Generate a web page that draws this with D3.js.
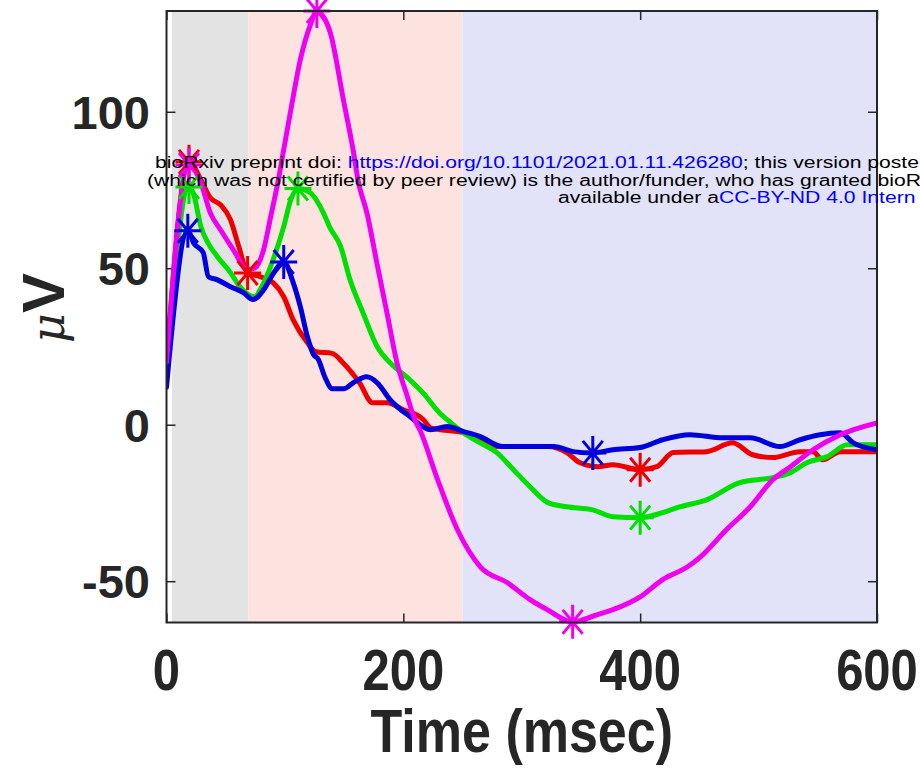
<!DOCTYPE html>
<html>
<head>
<meta charset="utf-8">
<script src="https://cdn.jsdelivr.net/npm/d3@7"></script>
<style>
  html, body { margin: 0; padding: 0; background: #fff; }
  svg { display: block; }
</style>
</head>
<body>
<svg id="chart" width="920" height="772"></svg>
<script>
// ---------------- data ----------------
const xTicks = [0, 200, 400, 600];
const yTicks = [-50, 0, 50, 100];
const xLabel = "Time (msec)";
const timeWindows = [[4.5, 69], [69, 250], [250, 600]];
const windowColors = ["#e3e3e3", "#fde3df", "#e2e2f9"];

const seriesNames = ["red", "green", "blue", "magenta"];
const seriesColors = ["#ee0000", "#00e000", "#0000dd", "#f000f0"];

const redData = [
  [0, 19.5], [19, 84], [29, 78.3], [37, 72.5], [45.6, 70.3], [54, 65.5], [61, 57],
  [68.5, 48.5], [79, 47.3], [90, 45.4], [99, 40.9], [107, 33.5], [119, 26.2],
  [126, 23.3], [140, 22.8], [149, 19.8], [163, 13.4], [174, 7], [186, 7],
  [200, 4.8], [217, 1.6], [223, -1], [251, -2.6], [279, -7], [322, -7],
  [338, -8.9], [349, -12.1], [364, -13.4], [377, -12.8], [400, -14.4],
  [414, -13.4], [428, -8.9], [456, -8.6], [478, -5.8], [495, -9.6],
  [512, -10.5], [535, -8.6], [546, -8.6], [554, -11.2], [569, -8.6], [600, -8.6]
];
const greenData = [
  [0, 16.6], [19, 76], [23, 73.5], [29, 63.3], [35, 58.1], [43, 53.7], [54, 48.6],
  [62, 44.1], [71, 41.2], [75, 40.9], [79, 43.1], [90, 52.7], [99, 63.3],
  [105, 71.9], [111, 75.5], [121.5, 74.1], [132.5, 67.7], [138, 63], [147, 57],
  [155, 46.3], [166, 35.7], [178, 24.9], [191, 19], [203, 15.2], [217, 10],
  [231, 3.6], [237, 1.6], [251, -2.6], [265, -5.8], [279, -8.9], [293, -14.4],
  [307, -19.8], [322, -24.9], [338, -26.2], [360, -27.2], [377, -29.4],
  [400, -29.7], [419, -28.1], [434, -26.2], [456, -24], [484, -18.5],
  [512, -16.9], [527, -15.3], [541, -12.1], [558, -10.2], [575, -6.4], [600, -6.4]
];
const blueData = [
  [0, 12], [18, 62], [23, 58], [31, 55], [35.4, 47.3], [43, 46.3], [54, 44.1],
  [65, 42.2], [73, 40], [82, 43.1], [89.5, 47.9], [99, 52], [107, 45.4],
  [113, 37.7], [119, 28.1], [124, 22.5], [128, 21], [134, 15], [140, 11.5],
  [150, 11.5], [158, 13.5], [169, 15.3], [178, 13.4], [189, 7.9], [206, 2.5],
  [223, -1.6], [237, -0.6], [251, -2.2], [265, -3.8], [284, -7], [307, -7],
  [327, -7], [343.5, -8.6], [360, -9], [377, -8], [400, -7.3], [419, -4.8],
  [442, -3.2], [470, -4.2], [493, -4.2], [518, -7], [535, -4.8], [552, -3.2],
  [569, -2.6], [580, -5.8], [600, -8]
];
const magentaData = [
  [0, 20], [19, 83], [29, 77.3], [37, 67.7], [45.6, 62.3], [56.5, 55.9],
  [68.4, 49.5], [75, 50.2], [82, 55.9], [88, 66.5], [94, 77.3], [99, 87.9],
  [105, 100.6], [113, 116.6], [121.5, 127.8], [127, 132.2], [132.5, 130.4],
  [138.4, 125.2], [149.4, 103.8], [158, 86.9], [161.7, 78.2], [169.3, 67.6],
  [177.7, 51.6], [186.2, 35.7], [194.7, 19.7], [203, 9.5], [209.8, 1.5],
  [214, -1.7], [229, -17.6], [245.6, -33.5], [265, -45.4], [288, -50.5],
  [307, -55.9], [321.5, -59.1], [343, -63], [364, -60.7], [377, -59.1],
  [400, -55], [419, -49.5], [440, -45.4], [451, -42.2], [473, -33.5],
  [493, -26.2], [512, -17.6], [527, -13.4], [546, -8], [569, -3.2], [600, 0.6]
];

const redStars = [[19, 84], [68.5, 48.5], [400, -14.4]];
const greenStars = [[19, 76], [111, 75.5], [400, -29.7]];
const blueStars = [[18, 62], [99, 52], [360, -9]];
const magentaStars = [[19, 83], [127, 132.2], [343, -63]];

const noticeLines = [
  [["bioRxiv preprint doi: ", "#000"], ["https://doi.org/10.1101/2021.01.11.426280", "#0000ff"], ["; this version poste", "#000"]],
  [["(which was not certified by peer review) is the author/funder, who has granted bioR", "#000"]],
  [["available under a", "#000"], ["CC-BY-ND 4.0 Intern", "#0000ff"]]
];

// ---------------- drawing ----------------
const svg = d3.select("#chart");
const pL = 166.5, pR = 877, pT = 11, pB = 622.5;
const x = d3.scaleLinear().domain([0, 600]).range([pL, pR]);
const y = d3.scaleLinear().domain([-63.2, 132.2]).range([pB, pT]);
const axisColor = "#262626";
const font = "'Liberation Sans', Arial, Helvetica, sans-serif";

svg.append("defs").append("clipPath").attr("id", "plotclip")
  .append("rect").attr("x", pL).attr("y", pT - 30).attr("width", pR - pL).attr("height", pB - pT + 60);

// background windows
svg.append("g").selectAll("rect").data(timeWindows).join("rect")
  .attr("x", d => x(d[0])).attr("width", d => x(d[1]) - x(d[0]))
  .attr("y", pT).attr("height", pB - pT)
  .attr("fill", (d, i) => windowColors[i]);

// axes ticks (inward, on all four sides)
function styleAxis(g) {
  g.select(".domain").remove();
  g.selectAll(".tick line").attr("stroke", axisColor).attr("stroke-width", 1.5);
}
svg.append("g").attr("transform", `translate(0,${pB})`)
  .call(d3.axisBottom(x).tickValues(xTicks).tickSizeInner(-9).tickSizeOuter(0).tickFormat("")).call(styleAxis);
svg.append("g").attr("transform", `translate(0,${pT})`)
  .call(d3.axisTop(x).tickValues(xTicks).tickSizeInner(-9).tickSizeOuter(0).tickFormat("")).call(styleAxis);
svg.append("g").attr("transform", `translate(${pL},0)`)
  .call(d3.axisLeft(y).tickValues(yTicks).tickSizeInner(-9).tickSizeOuter(0).tickFormat("")).call(styleAxis);
svg.append("g").attr("transform", `translate(${pR},0)`)
  .call(d3.axisRight(y).tickValues(yTicks).tickSizeInner(-9).tickSizeOuter(0).tickFormat("")).call(styleAxis);

// lines
const line = d3.line().x(d => x(d[0])).y(d => y(d[1])).curve(d3.curveMonotoneX);
const allData = [redData, greenData, blueData, magentaData];
const allStars = [redStars, greenStars, blueStars, magentaStars];
const plot = svg.append("g").attr("clip-path", "url(#plotclip)");
allData.forEach((data, i) => {
  plot.append("path").datum(data)
    .attr("fill", "none").attr("stroke", seriesColors[i])
    .attr("stroke-width", 5).attr("stroke-linejoin", "round").attr("stroke-linecap", "round")
    .attr("d", line);
});

// asterisk markers
function asterisk(cx, cy) {
  const h = 17, w = 13.5, dx = 10, dy = 12;
  return `M${cx},${cy - h}L${cx},${cy + h}M${cx - w},${cy}L${cx + w},${cy}` +
         `M${cx - dx},${cy - dy}L${cx + dx},${cy + dy}M${cx - dx},${cy + dy}L${cx + dx},${cy - dy}`;
}
const markG = svg.append("g");
allStars.forEach((stars, i) => {
  markG.selectAll(null).data(stars).join("path")
    .attr("d", d => asterisk(x(d[0]), y(d[1])))
    .attr("fill", "none").attr("stroke", seriesColors[i]).attr("stroke-width", 3);
});

// box border
svg.append("rect").attr("x", pL).attr("y", pT).attr("width", pR - pL).attr("height", pB - pT)
  .attr("fill", "none").attr("stroke", axisColor).attr("stroke-width", 2);

// tick labels (x labels are slightly stretched vertically like the reference)
svg.append("g").selectAll("text").data(xTicks).join("text")
  .attr("transform", d => `translate(${x(d)},690) scale(1,1.18)`)
  .attr("text-anchor", "middle")
  .attr("font-family", font).attr("font-weight", "bold").attr("font-size", 49)
  .attr("fill", axisColor).text(d => d);
svg.append("g").selectAll("text").data(yTicks).join("text")
  .attr("x", 150).attr("y", d => y(d)).attr("dy", "0.36em")
  .attr("text-anchor", "end")
  .attr("font-family", font).attr("font-weight", "bold").attr("font-size", 47)
  .attr("fill", axisColor).text(d => d);

// axis labels
svg.append("text").attr("transform", `translate(${(pL + pR) / 2},752) scale(1,1.16)`)
  .attr("text-anchor", "middle")
  .attr("font-family", font).attr("font-weight", "bold").attr("font-size", 52)
  .attr("fill", axisColor).text(xLabel);

const yl = svg.append("text").attr("transform", "translate(64,308) rotate(-90)")
  .attr("text-anchor", "middle").attr("fill", axisColor);
yl.append("tspan").attr("font-family", "'DejaVu Serif', 'Liberation Serif', serif")
  .attr("font-style", "italic").attr("font-size", 46).text("μ");
yl.append("tspan").attr("font-family", font).attr("font-weight", "bold")
  .attr("font-size", 60).text("V");

// notice overlay (horizontally stretched, as in the reference)
const noticeX = [155, 147, 558];
const noticeY = [168, 185.7, 203.4];
noticeLines.forEach((parts, i) => {
  const t = svg.append("text")
    .attr("transform", `translate(${noticeX[i]},${noticeY[i]}) scale(1.29,1)`)
    .attr("font-family", font).attr("font-size", 16.4);
  parts.forEach(p => t.append("tspan").attr("fill", p[1]).text(p[0]));
});
</script>
</body>
</html>
